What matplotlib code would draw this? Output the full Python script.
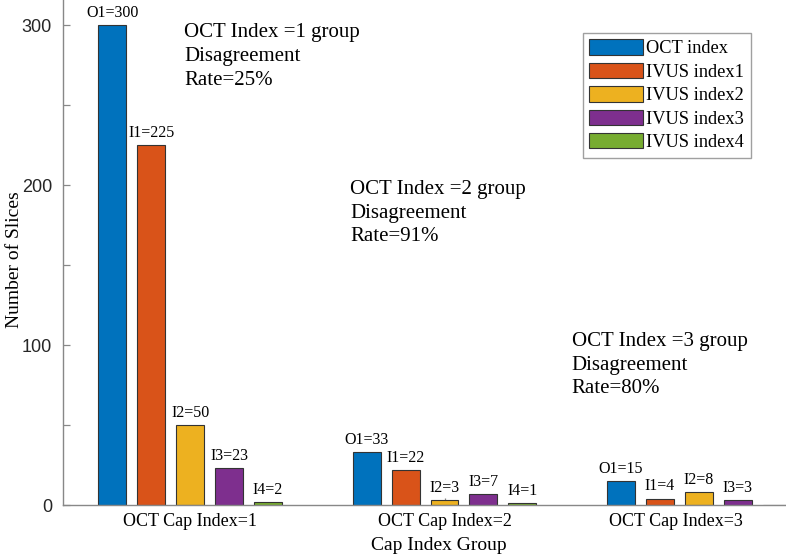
import matplotlib.pyplot as plt
import matplotlib.transforms as mtransforms
import numpy as np

groups = ['OCT Cap Index=1', 'OCT Cap Index=2', 'OCT Cap Index=3']
series = ['OCT index', 'IVUS index1', 'IVUS index2', 'IVUS index3', 'IVUS index4']
prefixes = ['O1', 'I1', 'I2', 'I3', 'I4']
oct_index = [300, 33, 15]
ivus1 = [225, 22, 4]
ivus2 = [50, 3, 8]
ivus3 = [23, 7, 3]
ivus4 = [2, 1, 0]
rates = ['25%', '91%', '80%']

colors = ['#0072BD', '#D95319', '#EDB120', '#7E2F8E', '#77AC30']
serif = ['Liberation Serif', 'DejaVu Serif']

fig = plt.figure(figsize=(7.86, 5.57), dpi=100)
# axes run past the right edge like the cropped original
ax = fig.add_axes([63 / 786, 52 / 557, 763 / 786, 505.6 / 557])

x = np.arange(1, len(groups) + 1)
step = 0.153
width = 0.11
data = [oct_index, ivus1, ivus2, ivus3, ivus4]
for i, vals in enumerate(data):
    pos = x + (i - 2) * step
    bars = ax.bar(pos, vals, width, color=colors[i], edgecolor='#333333',
                  linewidth=0.8, label=series[i], zorder=2)
    for b, v in zip(bars, vals):
        if v == 0:
            continue
        ax.annotate(f'{prefixes[i]}={v}', (b.get_x() + b.get_width() / 2, v),
                    xytext=(0, 3), textcoords='offset points',
                    ha='center', va='bottom', fontsize=11.5, family=serif)

ax.set_xlim(0.5, 3.5)
ax.set_ylim(0, 316)

# the last group label sits left of its tick in the original, so draw it by hand
ax.set_xticks(x)
ax.set_xticklabels(groups[:2] + [''], family=serif, fontsize=13)
shift = mtransforms.ScaledTranslation(-0.23, -6 / 72, fig.dpi_scale_trans)
ax.text(x[2], 0, groups[2], family=serif, fontsize=13, ha='center', va='top',
        transform=ax.get_xaxis_transform() + shift)

ax.set_yticks(np.arange(0, 301, 50))
ax.set_yticklabels(['0', '', '100', '', '200', '', '300'],
                   family='Liberation Sans', fontsize=13, color='#262626')

ax.tick_params(direction='in', length=5, color='#888888', width=0.9)
ax.tick_params(axis='x', pad=6)
ax.tick_params(axis='y', pad=8)
for s in ['top', 'right']:
    ax.spines[s].set_visible(False)
for s in ['left', 'bottom']:
    ax.spines[s].set_color('#888888')
    ax.spines[s].set_linewidth(1.0)

ax.set_xlabel('Cap Index Group', family=serif, fontsize=14)
ax.xaxis.set_label_coords(0.493, -0.064)
ax.set_ylabel('Number of Slices', family=serif, fontsize=14)
ax.yaxis.set_label_coords(-0.052, 0.485)

# disagreement notes
note_pos = [(0.976, 301), (1.629, 203), (2.50, 108)]
for k, (nx, ny) in enumerate(note_pos):
    ax.text(nx, ny, f'OCT Index ={k + 1} group\nDisagreement\nRate={rates[k]}',
            family=serif, fontsize=15, va='top', ha='left', linespacing=1.33)

leg = ax.legend(loc='upper left', bbox_to_anchor=(583 / 786, 1 - 33 / 557),
                bbox_transform=fig.transFigure,
                prop={'family': serif, 'size': 13.2}, frameon=True, fancybox=False,
                handlelength=2.9, handleheight=0.9, handletextpad=0.2,
                labelspacing=0.3, borderpad=0.35, borderaxespad=0)
leg.get_frame().set_edgecolor('#888888')
leg.get_frame().set_linewidth(1.0)

fig.savefig('out.png', dpi=100)
